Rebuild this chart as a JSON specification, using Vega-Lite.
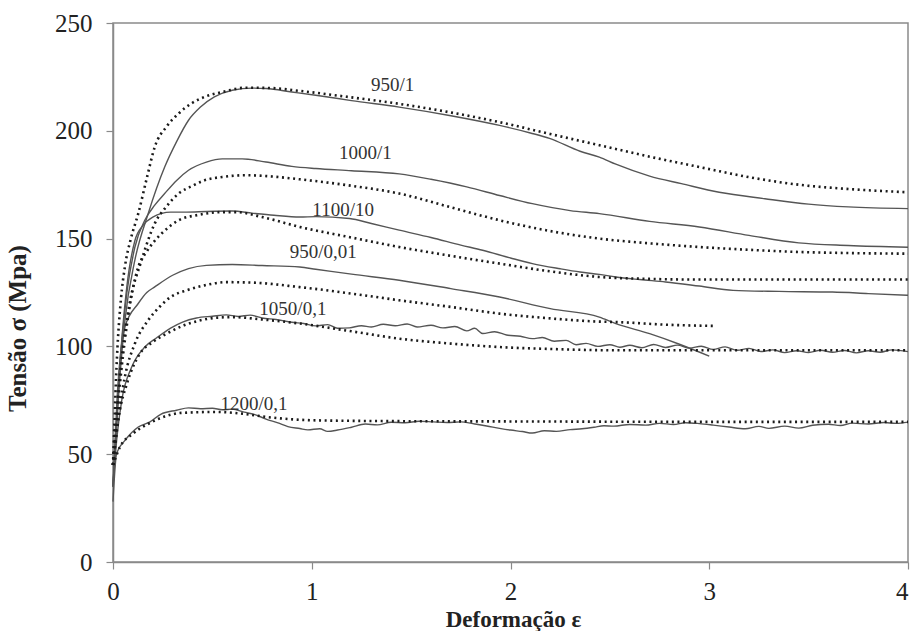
{
  "$schema": "https://vega.github.io/schema/vega-lite/v6.json",
  "width": 795,
  "height": 539,
  "autosize": {"type": "none"},
  "padding": {"left": 113, "top": 23, "right": 2, "bottom": 69},
  "background": "white",
  "config": {
    "font": "Liberation Serif",
    "view": {"stroke": "#8a8a8a", "strokeWidth": 1.5},
    "axis": {
      "grid": false,
      "domainColor": "#8a8a8a",
      "domainWidth": 1.5,
      "tickColor": "#8a8a8a",
      "tickWidth": 1.2,
      "tickSize": 7,
      "labelColor": "#222222",
      "labelFont": "Liberation Serif",
      "labelFontSize": 25,
      "titleFont": "Liberation Serif",
      "titleFontSize": 25,
      "titleFontWeight": "bold",
      "titleColor": "#222222"
    }
  },
  "datasets": {
    "curves": [
      {"s":"950/1","t":"model","x":0,"y":45},{"s":"950/1","t":"model","x":0.02,"y":95},{"s":"950/1","t":"model","x":0.04,"y":122},{"s":"950/1","t":"model","x":0.06,"y":137},{"s":"950/1","t":"model","x":0.09,"y":150},{"s":"950/1","t":"model","x":0.127,"y":161.6},{"s":"950/1","t":"model","x":0.17,"y":178},{"s":"950/1","t":"model","x":0.21,"y":192.5},{"s":"950/1","t":"model","x":0.27,"y":202},{"s":"950/1","t":"model","x":0.33,"y":208},{"s":"950/1","t":"model","x":0.4,"y":213},{"s":"950/1","t":"model","x":0.46,"y":215.7},{"s":"950/1","t":"model","x":0.55,"y":218},{"s":"950/1","t":"model","x":0.67,"y":220},{"s":"950/1","t":"model","x":0.8,"y":219.8},{"s":"950/1","t":"model","x":0.94,"y":218.5},{"s":"950/1","t":"model","x":1.2,"y":215.5},{"s":"950/1","t":"model","x":1.44,"y":212.5},{"s":"950/1","t":"model","x":1.7,"y":208.5},{"s":"950/1","t":"model","x":1.945,"y":204},{"s":"950/1","t":"model","x":2.2,"y":198.5},{"s":"950/1","t":"model","x":2.447,"y":193.3},{"s":"950/1","t":"model","x":2.7,"y":188},{"s":"950/1","t":"model","x":2.95,"y":183.2},{"s":"950/1","t":"model","x":3.2,"y":178.5},{"s":"950/1","t":"model","x":3.45,"y":175},{"s":"950/1","t":"model","x":3.7,"y":173},{"s":"950/1","t":"model","x":4.0,"y":171.5},

      {"s":"950/1","t":"exp","x":0,"y":35},{"s":"950/1","t":"exp","x":0.03,"y":80},{"s":"950/1","t":"exp","x":0.06,"y":112},{"s":"950/1","t":"exp","x":0.11,"y":140},{"s":"950/1","t":"exp","x":0.177,"y":161.6},{"s":"950/1","t":"exp","x":0.26,"y":183.2},{"s":"950/1","t":"exp","x":0.32,"y":195},{"s":"950/1","t":"exp","x":0.38,"y":204.9},{"s":"950/1","t":"exp","x":0.44,"y":211},{"s":"950/1","t":"exp","x":0.51,"y":215.7},{"s":"950/1","t":"exp","x":0.6,"y":218.8},{"s":"950/1","t":"exp","x":0.7,"y":219.8},{"s":"950/1","t":"exp","x":0.77,"y":219.6},{"s":"950/1","t":"exp","x":0.9,"y":218},{"s":"950/1","t":"exp","x":1.02,"y":216.5},{"s":"950/1","t":"exp","x":1.2,"y":214},{"s":"950/1","t":"exp","x":1.44,"y":211},{"s":"950/1","t":"exp","x":1.7,"y":207},{"s":"950/1","t":"exp","x":1.945,"y":202.5},{"s":"950/1","t":"exp","x":2.1,"y":199},{"s":"950/1","t":"exp","x":2.196,"y":196.5},{"s":"950/1","t":"exp","x":2.35,"y":190.5},{"s":"950/1","t":"exp","x":2.447,"y":187.8},{"s":"950/1","t":"exp","x":2.53,"y":184.5},{"s":"950/1","t":"exp","x":2.7,"y":179},{"s":"950/1","t":"exp","x":2.86,"y":175.5},{"s":"950/1","t":"exp","x":3.05,"y":171.5},{"s":"950/1","t":"exp","x":3.28,"y":168.5},{"s":"950/1","t":"exp","x":3.5,"y":166},{"s":"950/1","t":"exp","x":3.7,"y":164.7},{"s":"950/1","t":"exp","x":4.0,"y":163.9},

      {"s":"1000/1","t":"exp","x":0,"y":35},{"s":"1000/1","t":"exp","x":0.03,"y":85},{"s":"1000/1","t":"exp","x":0.07,"y":125},{"s":"1000/1","t":"exp","x":0.11,"y":146},{"s":"1000/1","t":"exp","x":0.16,"y":158.5},{"s":"1000/1","t":"exp","x":0.21,"y":165.5},{"s":"1000/1","t":"exp","x":0.26,"y":170.9},{"s":"1000/1","t":"exp","x":0.32,"y":177},{"s":"1000/1","t":"exp","x":0.38,"y":181.7},{"s":"1000/1","t":"exp","x":0.47,"y":185.5},{"s":"1000/1","t":"exp","x":0.55,"y":187},{"s":"1000/1","t":"exp","x":0.65,"y":187},{"s":"1000/1","t":"exp","x":0.77,"y":185.5},{"s":"1000/1","t":"exp","x":0.9,"y":183.5},{"s":"1000/1","t":"exp","x":1.02,"y":182.5},{"s":"1000/1","t":"exp","x":1.2,"y":181.5},{"s":"1000/1","t":"exp","x":1.44,"y":180},{"s":"1000/1","t":"exp","x":1.6,"y":177.5},{"s":"1000/1","t":"exp","x":1.78,"y":174},{"s":"1000/1","t":"exp","x":1.945,"y":170},{"s":"1000/1","t":"exp","x":2.11,"y":166.2},{"s":"1000/1","t":"exp","x":2.3,"y":163},{"s":"1000/1","t":"exp","x":2.447,"y":161.6},{"s":"1000/1","t":"exp","x":2.7,"y":158},{"s":"1000/1","t":"exp","x":2.95,"y":155.4},{"s":"1000/1","t":"exp","x":3.2,"y":151.5},{"s":"1000/1","t":"exp","x":3.45,"y":148},{"s":"1000/1","t":"exp","x":3.7,"y":146.8},{"s":"1000/1","t":"exp","x":4.0,"y":146},

      {"s":"1000/1","t":"model","x":0,"y":45},{"s":"1000/1","t":"model","x":0.03,"y":82},{"s":"1000/1","t":"model","x":0.08,"y":118},{"s":"1000/1","t":"model","x":0.144,"y":140},{"s":"1000/1","t":"model","x":0.21,"y":157},{"s":"1000/1","t":"model","x":0.27,"y":165},{"s":"1000/1","t":"model","x":0.33,"y":170.9},{"s":"1000/1","t":"model","x":0.4,"y":174.5},{"s":"1000/1","t":"model","x":0.46,"y":177},{"s":"1000/1","t":"model","x":0.55,"y":178.6},{"s":"1000/1","t":"model","x":0.67,"y":179.4},{"s":"1000/1","t":"model","x":0.8,"y":178.8},{"s":"1000/1","t":"model","x":0.94,"y":177.5},{"s":"1000/1","t":"model","x":1.2,"y":174.5},{"s":"1000/1","t":"model","x":1.44,"y":170.9},{"s":"1000/1","t":"model","x":1.7,"y":164.5},{"s":"1000/1","t":"model","x":1.945,"y":158.5},{"s":"1000/1","t":"model","x":2.2,"y":153.5},{"s":"1000/1","t":"model","x":2.447,"y":150},{"s":"1000/1","t":"model","x":2.7,"y":147.8},{"s":"1000/1","t":"model","x":2.95,"y":146.1},{"s":"1000/1","t":"model","x":3.2,"y":144.8},{"s":"1000/1","t":"model","x":3.45,"y":143.8},{"s":"1000/1","t":"model","x":3.7,"y":143.3},{"s":"1000/1","t":"model","x":4.0,"y":143},

      {"s":"1100/10","t":"exp","x":0,"y":35},{"s":"1100/10","t":"exp","x":0.03,"y":85},{"s":"1100/10","t":"exp","x":0.07,"y":128},{"s":"1100/10","t":"exp","x":0.11,"y":149},{"s":"1100/10","t":"exp","x":0.15,"y":156},{"s":"1100/10","t":"exp","x":0.2,"y":160},{"s":"1100/10","t":"exp","x":0.29,"y":162.3},{"s":"1100/10","t":"exp","x":0.37,"y":162.3},{"s":"1100/10","t":"exp","x":0.47,"y":162.6},{"s":"1100/10","t":"exp","x":0.6,"y":162.8},{"s":"1100/10","t":"exp","x":0.7,"y":161.8},{"s":"1100/10","t":"exp","x":0.81,"y":160.8},{"s":"1100/10","t":"exp","x":0.94,"y":160},{"s":"1100/10","t":"exp","x":1.02,"y":160.2},{"s":"1100/10","t":"exp","x":1.19,"y":159.3},{"s":"1100/10","t":"exp","x":1.3,"y":157},{"s":"1100/10","t":"exp","x":1.44,"y":153.9},{"s":"1100/10","t":"exp","x":1.6,"y":150.5},{"s":"1100/10","t":"exp","x":1.75,"y":147},{"s":"1100/10","t":"exp","x":1.86,"y":144.6},{"s":"1100/10","t":"exp","x":2.0,"y":141},{"s":"1100/10","t":"exp","x":2.11,"y":138.4},{"s":"1100/10","t":"exp","x":2.25,"y":136},{"s":"1100/10","t":"exp","x":2.35,"y":134.5},{"s":"1100/10","t":"exp","x":2.447,"y":133.4},{"s":"1100/10","t":"exp","x":2.53,"y":132.2},{"s":"1100/10","t":"exp","x":2.65,"y":131},{"s":"1100/10","t":"exp","x":2.78,"y":129.9},{"s":"1100/10","t":"exp","x":2.95,"y":128},{"s":"1100/10","t":"exp","x":3.12,"y":126},{"s":"1100/10","t":"exp","x":3.35,"y":125.5},{"s":"1100/10","t":"exp","x":3.62,"y":125.2},{"s":"1100/10","t":"exp","x":3.8,"y":124.5},{"s":"1100/10","t":"exp","x":4.0,"y":123.7},

      {"s":"1100/10","t":"model","x":0,"y":45},{"s":"1100/10","t":"model","x":0.03,"y":78},{"s":"1100/10","t":"model","x":0.07,"y":110},{"s":"1100/10","t":"model","x":0.127,"y":136.8},{"s":"1100/10","t":"model","x":0.17,"y":144},{"s":"1100/10","t":"model","x":0.21,"y":149},{"s":"1100/10","t":"model","x":0.27,"y":154.5},{"s":"1100/10","t":"model","x":0.33,"y":158.5},{"s":"1100/10","t":"model","x":0.43,"y":161},{"s":"1100/10","t":"model","x":0.55,"y":162.3},{"s":"1100/10","t":"model","x":0.62,"y":162.3},{"s":"1100/10","t":"model","x":0.75,"y":160},{"s":"1100/10","t":"model","x":0.94,"y":155.4},{"s":"1100/10","t":"model","x":1.2,"y":150.5},{"s":"1100/10","t":"model","x":1.44,"y":146.1},{"s":"1100/10","t":"model","x":1.7,"y":142},{"s":"1100/10","t":"model","x":1.945,"y":138.4},{"s":"1100/10","t":"model","x":2.2,"y":134.8},{"s":"1100/10","t":"model","x":2.447,"y":132.2},{"s":"1100/10","t":"model","x":2.7,"y":131.3},{"s":"1100/10","t":"model","x":2.95,"y":131},{"s":"1100/10","t":"model","x":3.5,"y":131},{"s":"1100/10","t":"model","x":4.0,"y":131},

      {"s":"950/0,01","t":"exp","x":0,"y":35},{"s":"950/0,01","t":"exp","x":0.02,"y":75},{"s":"950/0,01","t":"exp","x":0.06,"y":109},{"s":"950/0,01","t":"exp","x":0.127,"y":119.9},{"s":"950/0,01","t":"exp","x":0.17,"y":125},{"s":"950/0,01","t":"exp","x":0.21,"y":127.6},{"s":"950/0,01","t":"exp","x":0.3,"y":133},{"s":"950/0,01","t":"exp","x":0.38,"y":136.1},{"s":"950/0,01","t":"exp","x":0.47,"y":137.6},{"s":"950/0,01","t":"exp","x":0.6,"y":138},{"s":"950/0,01","t":"exp","x":0.75,"y":137.5},{"s":"950/0,01","t":"exp","x":0.94,"y":136.8},{"s":"950/0,01","t":"exp","x":1.02,"y":135.8},{"s":"950/0,01","t":"exp","x":1.2,"y":133.5},{"s":"950/0,01","t":"exp","x":1.44,"y":130.7},{"s":"950/0,01","t":"exp","x":1.7,"y":126.8},{"s":"950/0,01","t":"exp","x":1.945,"y":122.9},{"s":"950/0,01","t":"exp","x":2.2,"y":117.5},{"s":"950/0,01","t":"exp","x":2.447,"y":113.6},{"s":"950/0,01","t":"exp","x":2.53,"y":110.6},{"s":"950/0,01","t":"exp","x":2.7,"y":105.9},{"s":"950/0,01","t":"exp","x":2.85,"y":101},{"s":"950/0,01","t":"exp","x":3.0,"y":95.5},

      {"s":"950/0,01","t":"model","x":0,"y":45},{"s":"950/0,01","t":"model","x":0.02,"y":62},{"s":"950/0,01","t":"model","x":0.06,"y":86},{"s":"950/0,01","t":"model","x":0.11,"y":101.3},{"s":"950/0,01","t":"model","x":0.177,"y":112.1},{"s":"950/0,01","t":"model","x":0.236,"y":118.5},{"s":"950/0,01","t":"model","x":0.29,"y":122.9},{"s":"950/0,01","t":"model","x":0.37,"y":126},{"s":"950/0,01","t":"model","x":0.46,"y":128.3},{"s":"950/0,01","t":"model","x":0.57,"y":129.8},{"s":"950/0,01","t":"model","x":0.7,"y":129.6},{"s":"950/0,01","t":"model","x":0.94,"y":127.5},{"s":"950/0,01","t":"model","x":1.2,"y":124.5},{"s":"950/0,01","t":"model","x":1.44,"y":121.4},{"s":"950/0,01","t":"model","x":1.7,"y":118.3},{"s":"950/0,01","t":"model","x":1.945,"y":115.2},{"s":"950/0,01","t":"model","x":2.2,"y":113},{"s":"950/0,01","t":"model","x":2.447,"y":111.5},{"s":"950/0,01","t":"model","x":2.53,"y":111.3},{"s":"950/0,01","t":"model","x":2.8,"y":110},{"s":"950/0,01","t":"model","x":3.02,"y":109.5},

      {"s":"1050/0,1","t":"exp","x":0,"y":35},{"s":"1050/0,1","t":"exp","x":0.02,"y":58},{"s":"1050/0,1","t":"exp","x":0.044,"y":75},{"s":"1050/0,1","t":"exp","x":0.094,"y":90.4},{"s":"1050/0,1","t":"exp","x":0.16,"y":99.7},{"s":"1050/0,1","t":"exp","x":0.22,"y":104},{"s":"1050/0,1","t":"exp","x":0.29,"y":108.5},{"s":"1050/0,1","t":"exp","x":0.35,"y":111.3},{"s":"1050/0,1","t":"exp","x":0.42,"y":113.2},{"s":"1050/0,1","t":"exp","x":0.5,"y":114},{"s":"1050/0,1","t":"exp","x":0.57,"y":114.6},{"s":"1050/0,1","t":"exp","x":0.63,"y":113.9},{"s":"1050/0,1","t":"exp","x":0.69,"y":114.5},{"s":"1050/0,1","t":"exp","x":0.75,"y":113.2},{"s":"1050/0,1","t":"exp","x":0.82,"y":112.5},{"s":"1050/0,1","t":"exp","x":0.9,"y":111.2},{"s":"1050/0,1","t":"exp","x":0.96,"y":110.6},{"s":"1050/0,1","t":"exp","x":1.02,"y":109.5},{"s":"1050/0,1","t":"exp","x":1.08,"y":110.1},{"s":"1050/0,1","t":"exp","x":1.13,"y":108.4},{"s":"1050/0,1","t":"exp","x":1.19,"y":108.6},{"s":"1050/0,1","t":"exp","x":1.25,"y":109.6},{"s":"1050/0,1","t":"exp","x":1.3,"y":109},{"s":"1050/0,1","t":"exp","x":1.36,"y":110.3},{"s":"1050/0,1","t":"exp","x":1.42,"y":109.6},{"s":"1050/0,1","t":"exp","x":1.48,"y":110.4},{"s":"1050/0,1","t":"exp","x":1.53,"y":109},{"s":"1050/0,1","t":"exp","x":1.6,"y":109.8},{"s":"1050/0,1","t":"exp","x":1.66,"y":108.6},{"s":"1050/0,1","t":"exp","x":1.72,"y":109.2},{"s":"1050/0,1","t":"exp","x":1.78,"y":107.2},{"s":"1050/0,1","t":"exp","x":1.82,"y":108.4},{"s":"1050/0,1","t":"exp","x":1.86,"y":106},{"s":"1050/0,1","t":"exp","x":1.92,"y":106.8},{"s":"1050/0,1","t":"exp","x":1.98,"y":105.3},{"s":"1050/0,1","t":"exp","x":2.05,"y":104.7},{"s":"1050/0,1","t":"exp","x":2.11,"y":103.6},{"s":"1050/0,1","t":"exp","x":2.16,"y":104.1},{"s":"1050/0,1","t":"exp","x":2.22,"y":102.4},{"s":"1050/0,1","t":"exp","x":2.28,"y":102.8},{"s":"1050/0,1","t":"exp","x":2.33,"y":100.8},{"s":"1050/0,1","t":"exp","x":2.38,"y":101.4},{"s":"1050/0,1","t":"exp","x":2.44,"y":100},{"s":"1050/0,1","t":"exp","x":2.5,"y":100.8},{"s":"1050/0,1","t":"exp","x":2.55,"y":99.6},{"s":"1050/0,1","t":"exp","x":2.6,"y":100.5},{"s":"1050/0,1","t":"exp","x":2.66,"y":99.4},{"s":"1050/0,1","t":"exp","x":2.72,"y":100.9},{"s":"1050/0,1","t":"exp","x":2.78,"y":99.5},{"s":"1050/0,1","t":"exp","x":2.84,"y":100.6},{"s":"1050/0,1","t":"exp","x":2.9,"y":99.2},{"s":"1050/0,1","t":"exp","x":2.96,"y":100.1},{"s":"1050/0,1","t":"exp","x":3.02,"y":98.6},{"s":"1050/0,1","t":"exp","x":3.08,"y":99.8},{"s":"1050/0,1","t":"exp","x":3.14,"y":98.2},{"s":"1050/0,1","t":"exp","x":3.2,"y":99.1},{"s":"1050/0,1","t":"exp","x":3.26,"y":97.6},{"s":"1050/0,1","t":"exp","x":3.32,"y":98.4},{"s":"1050/0,1","t":"exp","x":3.38,"y":97.1},{"s":"1050/0,1","t":"exp","x":3.44,"y":98},{"s":"1050/0,1","t":"exp","x":3.5,"y":97.2},{"s":"1050/0,1","t":"exp","x":3.56,"y":98.2},{"s":"1050/0,1","t":"exp","x":3.62,"y":97.3},{"s":"1050/0,1","t":"exp","x":3.68,"y":98.1},{"s":"1050/0,1","t":"exp","x":3.74,"y":97},{"s":"1050/0,1","t":"exp","x":3.8,"y":98},{"s":"1050/0,1","t":"exp","x":3.86,"y":97.3},{"s":"1050/0,1","t":"exp","x":3.92,"y":98.4},{"s":"1050/0,1","t":"exp","x":4.0,"y":97.6},

      {"s":"1050/0,1","t":"model","x":0,"y":45},{"s":"1050/0,1","t":"model","x":0.03,"y":68},{"s":"1050/0,1","t":"model","x":0.07,"y":82.7},{"s":"1050/0,1","t":"model","x":0.136,"y":96.7},{"s":"1050/0,1","t":"model","x":0.2,"y":102},{"s":"1050/0,1","t":"model","x":0.27,"y":105.9},{"s":"1050/0,1","t":"model","x":0.35,"y":109.5},{"s":"1050/0,1","t":"model","x":0.44,"y":112.1},{"s":"1050/0,1","t":"model","x":0.52,"y":113.3},{"s":"1050/0,1","t":"model","x":0.6,"y":113.6},{"s":"1050/0,1","t":"model","x":0.75,"y":112.5},{"s":"1050/0,1","t":"model","x":0.94,"y":110.6},{"s":"1050/0,1","t":"model","x":1.2,"y":107},{"s":"1050/0,1","t":"model","x":1.44,"y":103.6},{"s":"1050/0,1","t":"model","x":1.7,"y":101.3},{"s":"1050/0,1","t":"model","x":1.945,"y":99.7},{"s":"1050/0,1","t":"model","x":2.2,"y":98.8},{"s":"1050/0,1","t":"model","x":2.53,"y":98.2},{"s":"1050/0,1","t":"model","x":3.0,"y":98.2},{"s":"1050/0,1","t":"model","x":3.5,"y":98.2},{"s":"1050/0,1","t":"model","x":4.0,"y":98.2},

      {"s":"1200/0,1","t":"exp","x":0,"y":28},{"s":"1200/0,1","t":"exp","x":0.018,"y":50.3},{"s":"1200/0,1","t":"exp","x":0.06,"y":56.4},{"s":"1200/0,1","t":"exp","x":0.127,"y":62.6},{"s":"1200/0,1","t":"exp","x":0.186,"y":65},{"s":"1200/0,1","t":"exp","x":0.24,"y":68.5},{"s":"1200/0,1","t":"exp","x":0.32,"y":70.4},{"s":"1200/0,1","t":"exp","x":0.38,"y":71.5},{"s":"1200/0,1","t":"exp","x":0.44,"y":71.1},{"s":"1200/0,1","t":"exp","x":0.5,"y":71.3},{"s":"1200/0,1","t":"exp","x":0.55,"y":70.6},{"s":"1200/0,1","t":"exp","x":0.6,"y":70.9},{"s":"1200/0,1","t":"exp","x":0.66,"y":69.5},{"s":"1200/0,1","t":"exp","x":0.71,"y":68.5},{"s":"1200/0,1","t":"exp","x":0.77,"y":66.3},{"s":"1200/0,1","t":"exp","x":0.83,"y":64.5},{"s":"1200/0,1","t":"exp","x":0.88,"y":62.8},{"s":"1200/0,1","t":"exp","x":0.94,"y":61.9},{"s":"1200/0,1","t":"exp","x":0.98,"y":61.3},{"s":"1200/0,1","t":"exp","x":1.04,"y":61.8},{"s":"1200/0,1","t":"exp","x":1.08,"y":60.6},{"s":"1200/0,1","t":"exp","x":1.13,"y":61.2},{"s":"1200/0,1","t":"exp","x":1.2,"y":62.5},{"s":"1200/0,1","t":"exp","x":1.27,"y":64},{"s":"1200/0,1","t":"exp","x":1.33,"y":63.6},{"s":"1200/0,1","t":"exp","x":1.4,"y":64.8},{"s":"1200/0,1","t":"exp","x":1.47,"y":64.6},{"s":"1200/0,1","t":"exp","x":1.54,"y":65.3},{"s":"1200/0,1","t":"exp","x":1.61,"y":65},{"s":"1200/0,1","t":"exp","x":1.68,"y":64.7},{"s":"1200/0,1","t":"exp","x":1.75,"y":65},{"s":"1200/0,1","t":"exp","x":1.82,"y":64},{"s":"1200/0,1","t":"exp","x":1.88,"y":63.1},{"s":"1200/0,1","t":"exp","x":1.945,"y":62},{"s":"1200/0,1","t":"exp","x":2.0,"y":61.2},{"s":"1200/0,1","t":"exp","x":2.06,"y":60.5},{"s":"1200/0,1","t":"exp","x":2.11,"y":59.8},{"s":"1200/0,1","t":"exp","x":2.17,"y":60.9},{"s":"1200/0,1","t":"exp","x":2.23,"y":60.6},{"s":"1200/0,1","t":"exp","x":2.3,"y":61.4},{"s":"1200/0,1","t":"exp","x":2.36,"y":61.8},{"s":"1200/0,1","t":"exp","x":2.42,"y":62.5},{"s":"1200/0,1","t":"exp","x":2.47,"y":63.2},{"s":"1200/0,1","t":"exp","x":2.52,"y":63},{"s":"1200/0,1","t":"exp","x":2.6,"y":63.8},{"s":"1200/0,1","t":"exp","x":2.68,"y":63.5},{"s":"1200/0,1","t":"exp","x":2.75,"y":64.3},{"s":"1200/0,1","t":"exp","x":2.82,"y":63.8},{"s":"1200/0,1","t":"exp","x":2.88,"y":64.6},{"s":"1200/0,1","t":"exp","x":2.95,"y":64.2},{"s":"1200/0,1","t":"exp","x":3.02,"y":63.5},{"s":"1200/0,1","t":"exp","x":3.1,"y":62.6},{"s":"1200/0,1","t":"exp","x":3.18,"y":61.8},{"s":"1200/0,1","t":"exp","x":3.25,"y":62.9},{"s":"1200/0,1","t":"exp","x":3.3,"y":62},{"s":"1200/0,1","t":"exp","x":3.38,"y":63},{"s":"1200/0,1","t":"exp","x":3.45,"y":62.1},{"s":"1200/0,1","t":"exp","x":3.52,"y":63.4},{"s":"1200/0,1","t":"exp","x":3.6,"y":63.9},{"s":"1200/0,1","t":"exp","x":3.66,"y":63.3},{"s":"1200/0,1","t":"exp","x":3.72,"y":64.4},{"s":"1200/0,1","t":"exp","x":3.8,"y":64},{"s":"1200/0,1","t":"exp","x":3.88,"y":64.7},{"s":"1200/0,1","t":"exp","x":3.94,"y":64.3},{"s":"1200/0,1","t":"exp","x":4.0,"y":64.9},

      {"s":"1200/0,1","t":"model","x":0,"y":45},{"s":"1200/0,1","t":"model","x":0.035,"y":53.3},{"s":"1200/0,1","t":"model","x":0.1,"y":59.5},{"s":"1200/0,1","t":"model","x":0.186,"y":64.5},{"s":"1200/0,1","t":"model","x":0.26,"y":67.5},{"s":"1200/0,1","t":"model","x":0.35,"y":69.2},{"s":"1200/0,1","t":"model","x":0.52,"y":69.6},{"s":"1200/0,1","t":"model","x":0.65,"y":68.8},{"s":"1200/0,1","t":"model","x":0.77,"y":67.3},{"s":"1200/0,1","t":"model","x":1.02,"y":65.7},{"s":"1200/0,1","t":"model","x":1.5,"y":65.3},{"s":"1200/0,1","t":"model","x":2.0,"y":65.2},{"s":"1200/0,1","t":"model","x":3.0,"y":65},{"s":"1200/0,1","t":"model","x":4.0,"y":65}
    ],
    "labels": [
      {"label":"950/1","x":1.407,"y":221.1},
      {"label":"1000/1","x":1.27,"y":189.9},
      {"label":"1100/10","x":1.158,"y":163.2},
      {"label":"950/0,01","x":1.058,"y":143.9},
      {"label":"1050/0,1","x":0.905,"y":117.4},
      {"label":"1200/0,1","x":0.709,"y":73.4}
    ]
  },
  "layer": [
    {
      "data": {"name": "curves"},
      "transform": [{"filter": "datum.t === 'exp'"}],
      "mark": {"type": "line", "color": "#555555", "strokeWidth": 1.4, "interpolate": "monotone"},
      "encoding": {
        "x": {"field": "x", "type": "quantitative", "scale": {"domain": [0, 4], "nice": false}, "axis": {"values": [0, 1, 2, 3, 4], "format": "d", "labelFlush": false, "labelAlign": {"condition": {"test": "datum.value === 4", "value": "right"}, "value": "center"}, "title": "Deformação ε", "titleFontSize": 23, "labelPadding": 10, "titleX": 400, "titleY": 64, "titleBaseline": "alphabetic"}},
        "y": {"field": "y", "type": "quantitative", "scale": {"domain": [0, 250], "nice": false}, "axis": {"values": [0, 50, 100, 150, 200, 250], "format": "d", "title": "Tensão σ (Mpa)", "labelPadding": 14, "titleX": -83, "titleY": 305}},
        "detail": {"field": "s"}
      }
    },
    {
      "data": {"name": "curves"},
      "transform": [{"filter": "datum.t === 'model'"}],
      "mark": {"type": "line", "color": "#1a1a1a", "strokeWidth": 2.6, "strokeDash": [2, 3.6], "interpolate": "monotone"},
      "encoding": {
        "x": {"field": "x", "type": "quantitative"},
        "y": {"field": "y", "type": "quantitative"},
        "detail": {"field": "s"}
      }
    },
    {
      "data": {"name": "labels"},
      "mark": {"type": "text", "font": "Liberation Serif", "fontSize": 19, "color": "#333333", "align": "center", "baseline": "middle"},
      "encoding": {
        "x": {"field": "x", "type": "quantitative"},
        "y": {"field": "y", "type": "quantitative"},
        "text": {"field": "label"}
      }
    }
  ]
}
